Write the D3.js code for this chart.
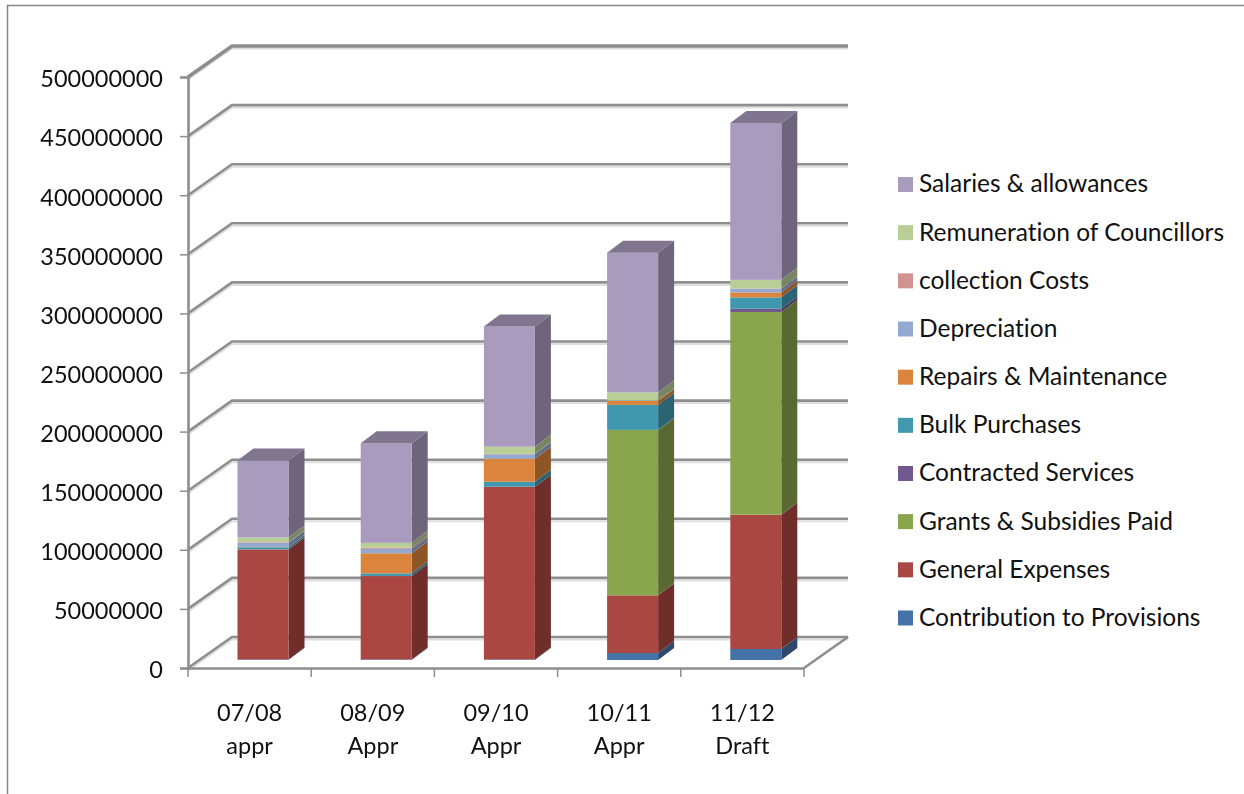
<!DOCTYPE html>
<html>
<head>
<meta charset="utf-8">
<script src="https://cdn.jsdelivr.net/npm/d3@7"></script>
<style>
  html, body { margin: 0; padding: 0; background: #fff; }
  text { font-family: Lato, "Open Sans", sans-serif; fill: #111; font-variant-ligatures: none; }
</style>
</head>
<body>
<div id="chart"></div>
<script>
const categories = ['07/08 appr', '08/09 Appr', '09/10 Appr', '10/11 Appr', '11/12 Draft']
const yTicks = [0, 50000000, 100000000, 150000000, 200000000, 250000000, 300000000, 350000000, 400000000, 450000000, 500000000]

// stack order, bottom to top
const seriesNames = ['Contribution to Provisions', 'General Expenses', 'Grants & Subsidies Paid', 'Contracted Services', 'Bulk Purchases', 'Repairs & Maintenance', 'Depreciation', 'collection Costs', 'Remuneration of Councillors', 'Salaries & allowances']
const seriesColors = ['#4572a7', '#aa4643', '#89a54e', '#71588f', '#4198af', '#db843d', '#93a9cf', '#d19392', '#b9cd96', '#a99bbd']

const contribution = [500000, 500000, 500000, 5900000, 9300000]
const general = [93000000, 70500000, 146000000, 48800000, 113600000]
const grants = [0, 0, 0, 139900000, 171500000]
const contracted = [200000, 100000, 100000, 100000, 2800000]
const bulk = [1700000, 2200000, 4200000, 21100000, 9600000]
const repairs = [300000, 17000000, 19500000, 3400000, 4200000]
const depreciation = [3500000, 3700000, 3700000, 300000, 3000000]
const collection = [500000, 1100000, 400000, 100000, 300000]
const remuneration = [4000000, 4000000, 6000000, 6800000, 7300000]
const salaries = [65000000, 84300000, 101800000, 118200000, 132800000]

const seriesValues = [contribution, general, grants, contracted, bulk, repairs, depreciation, collection, remuneration, salaries]

const width = 1244, height = 794
const wall = {dx: 44, dy: -31}      // depth of the back wall
const depth = {dx: 16, dy: -12}     // depth of a bar
const barLift = 8                   // bars stand a little way into the floor
const barInset = 49.5, barWidth = 51
const gridColor = '#8e8e8e', gridShadow = '#dedede'

const svg = d3.select('#chart').append('svg')
    .attr('width', width)
    .attr('height', height)
    .style('display', 'block')

// the reference is a slightly soft screenshot
const soft = svg.append('defs').append('filter').attr('id', 'soft')
    .attr('x', '-5%').attr('y', '-5%').attr('width', '110%').attr('height', '110%')
soft.append('feGaussianBlur').attr('stdDeviation', 0.5)

// outer chart frame, only top and left show in the crop
svg.append('path')
    .attr('d', 'M7.5 794V5.5H1244')
    .attr('fill', 'none')
    .attr('stroke', '#868686')
    .attr('stroke-width', 1.5)

const x = d3.scaleBand().domain(categories).range([188, 804])
const y = d3.scaleLinear().domain([0, 500000000]).range([668, 77])

// walls
const grid = svg.append('g').attr('fill', 'none').attr('filter', 'url(#soft)')
const gridPath = v => {
    const p = d3.path()
    p.moveTo(188, y(v))
    p.lineTo(188 + wall.dx, y(v) + wall.dy)
    p.lineTo(804 + wall.dx, y(v) + wall.dy)
    return p.toString()
}
grid.selectAll('path.shadow').data(yTicks).join('path')
    .attr('class', 'shadow')
    .attr('d', gridPath)
    .attr('transform', 'translate(0,2.5)')
    .attr('stroke', gridShadow)
    .attr('stroke-width', 2)
grid.selectAll('path.line').data(yTicks).join('path')
    .attr('class', 'line')
    .attr('d', gridPath)
    .attr('stroke', gridColor)
    .attr('stroke-width', d => d === 500000000 ? 3.5 : 2.6)

// right edge of the floor
grid.append('path')
    .attr('d', d3.line()([[804, y(0)], [804 + wall.dx, y(0) + wall.dy]]))
    .attr('stroke', gridColor)
    .attr('stroke-width', 2.6)

// stacked bars
const rows = categories.map((c, i) => {
    const row = {category: c}
    seriesNames.forEach((s, j) => { row[s] = seriesValues[j][i] })
    return row
})
const stacked = d3.stack().keys(seriesNames)(rows)

const poly = pts => d3.line()(pts) + 'Z'
const barX = c => x(c) + barInset
const barY = v => y(v) - barLift
const shade = (col, k) => {
    const c = d3.rgb(col)
    return d3.rgb(c.r * k, c.g * k, c.b * k).formatHex()
}

categories.forEach((c, i) => {
    const bar = svg.append('g').attr('class', 'bar').attr('filter', 'url(#soft)')
    const x0 = barX(c), x1 = x0 + barWidth

    stacked.forEach((layer, j) => {
        const [v0, v1] = layer[i]
        if (v1 <= v0) return
        // side face
        bar.append('path')
            .attr('d', poly([[x1, barY(v0)], [x1 + depth.dx, barY(v0) + depth.dy], [x1 + depth.dx, barY(v1) + depth.dy], [x1, barY(v1)]]))
            .attr('fill', shade(seriesColors[j], 0.65))
        // front face
        bar.append('rect')
            .attr('x', x0)
            .attr('y', barY(v1))
            .attr('width', barWidth)
            .attr('height', barY(v0) - barY(v1))
            .attr('fill', seriesColors[j])
    })

    // top of the stack
    const top = stacked[stacked.length - 1][i][1]
    bar.append('path')
        .attr('d', poly([[x0, barY(top)], [x0 + depth.dx, barY(top) + depth.dy], [x1 + depth.dx, barY(top) + depth.dy], [x1, barY(top)]]))
        .attr('fill', shade(seriesColors[9], 0.75))
})

// y axis
const yAxis = svg.append('g')
    .attr('transform', 'translate(188,0)')
    .call(d3.axisLeft(y).tickValues(yTicks).tickFormat(d3.format('d')).tickSize(8).tickPadding(17))
yAxis.select('.domain').attr('stroke', gridColor).attr('stroke-width', 2.6)
yAxis.selectAll('.tick line').attr('stroke', gridColor).attr('stroke-width', 1.5)
yAxis.selectAll('.tick text')
    .attr('dy', '0.42em')
    .style('font-size', '23.5px')
    .style('font-family', 'Lato, "Open Sans", sans-serif')
    .attr('fill', '#111')

// x axis, ticks sit between the categories
const xAxis = svg.append('g')
    .attr('transform', 'translate(0,668)')
    .call(d3.axisBottom(x).tickSize(0).tickPadding(0))
xAxis.select('.domain').attr('stroke', gridColor).attr('stroke-width', 2.6)
xAxis.selectAll('.tick text').each(function (d) {
    const parts = d.split(' ')
    const t = d3.select(this).text(null)
        .attr('y', 0)
        .attr('dy', null)
        .style('font-size', '23.5px')
        .style('font-family', 'Lato, "Open Sans", sans-serif')
        .attr('fill', '#111')
    t.append('tspan').attr('x', 0).attr('y', 53).text(parts[0])
    t.append('tspan').attr('x', 0).attr('y', 86).text(parts[1])
})
xAxis.selectAll('line.sep').data(d3.range(categories.length + 1)).join('line')
    .attr('class', 'sep')
    .attr('x1', d => x.range()[0] + d * x.step())
    .attr('x2', d => x.range()[0] + d * x.step())
    .attr('y1', 0)
    .attr('y2', 9)
    .attr('stroke', gridColor)
    .attr('stroke-width', 1.5)

// legend, reversed against the stack
const legendY = d3.scalePoint().domain(seriesNames.slice().reverse()).range([184.5, 618])
const legend = svg.append('g').selectAll('g').data(seriesNames).join('g')
    .attr('transform', d => 'translate(898,' + legendY(d) + ')')
legend.append('rect')
    .attr('y', -7.5)
    .attr('width', 15)
    .attr('height', 15)
    .attr('fill', (d, i) => seriesColors[i])
legend.append('text')
    .attr('x', 21)
    .attr('dy', '0.32em')
    .style('font-size', '24.5px')
    .text(d => d)
</script>
</body>
</html>
